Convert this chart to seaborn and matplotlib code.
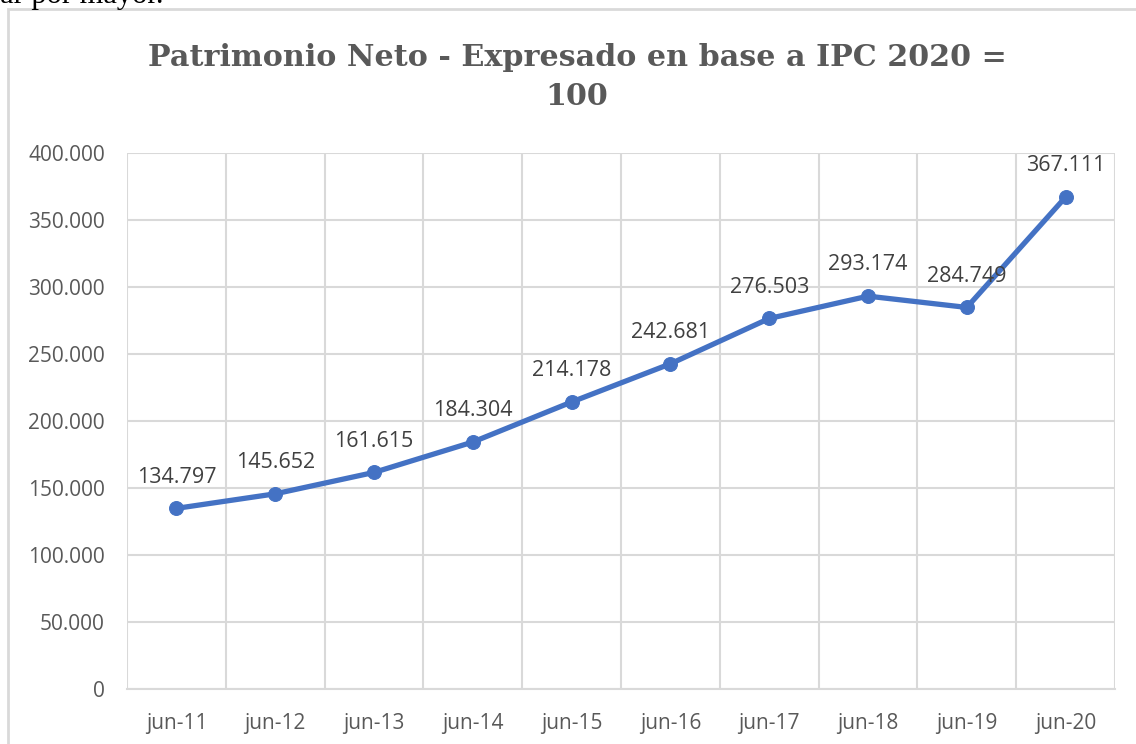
import matplotlib
matplotlib.use("Agg")
import matplotlib.pyplot as plt
import matplotlib.ticker as mticker
from matplotlib.patches import Rectangle
import seaborn as sns
import numpy as np

# datos del gráfico
periodos = ["jun-11", "jun-12", "jun-13", "jun-14", "jun-15",
            "jun-16", "jun-17", "jun-18", "jun-19", "jun-20"]
patrimonio = [134797, 145652, 161615, 184304, 214178,
              242681, 276503, 293174, 284749, 367111]
titulo = "Patrimonio Neto - Expresado en base a IPC 2020 =\n100"

GRIS_TXT = "#595959"
GRIS_GRID = "#d9d9d9"
AZUL = "#4472C4"


def miles(v, pos=None):
    return f"{int(round(v)):,}".replace(",", ".")


sns.set_style("white")
plt.rcParams["font.family"] = ["Open Sans", "DejaVu Sans"]

fig = plt.figure(figsize=(11.36, 7.44), dpi=100)
ax = fig.add_axes([127 / 1136, 1 - 689 / 744, (1115 - 127) / 1136, (689 - 153) / 744])

x = np.arange(len(periodos))
sns.lineplot(x=x, y=patrimonio, ax=ax, color=AZUL, linewidth=3.8,
             marker="o", markersize=10, markeredgecolor=AZUL, zorder=3)

# etiquetas de datos
for xi, v in zip(x, patrimonio):
    ax.annotate(miles(v), (xi, v), xytext=(0, 15), textcoords="offset points",
                ha="center", va="bottom", fontsize=15.5, color="#404040")

ax.set_xlim(-0.5, len(periodos) - 0.5)
ax.set_ylim(0, 400000)
ax.yaxis.set_major_locator(mticker.MultipleLocator(50000))
ax.yaxis.set_major_formatter(mticker.FuncFormatter(miles))
ax.set_xticks(x)
ax.set_xticklabels(periodos)
ax.set_xticks(np.arange(-0.5, len(periodos)), minor=True)

ax.grid(True, axis="y", color=GRIS_GRID, linewidth=1.5)
ax.grid(True, axis="x", which="minor", color=GRIS_GRID, linewidth=1.5)
ax.tick_params(axis="x", which="major", length=0, pad=17, labelsize=15, labelcolor=GRIS_TXT)
ax.tick_params(axis="x", which="minor", length=7, width=1.5, color=GRIS_GRID, direction="out")
ax.tick_params(axis="y", length=0, pad=16, labelsize=15, labelcolor=GRIS_TXT)
for s in ["top", "right", "left"]:
    ax.spines[s].set_visible(False)
ax.spines["bottom"].set_color(GRIS_GRID)
ax.spines["bottom"].set_linewidth(1.5)
ax.set_axisbelow(True)

# título
fig.text(577 / 1136, 1 - 77 / 744, titulo, ha="center", va="center",
         fontsize=21.7, fontweight="bold", color=GRIS_TXT,
         family=["DejaVu Serif"], linespacing=1.4)

# borde del área del gráfico
fig.patches.append(Rectangle((8 / 1136, -0.05), 1.1, 1 - 9 / 744 + 0.05,
                             transform=fig.transFigure, fill=False,
                             edgecolor="#d9d9d9", linewidth=2))

# texto cortado del documento (parte superior de la página)
fig.text(0, 1 - 3 / 744, "ar por mayor.", ha="left", va="baseline",
         fontsize=22, color="black", family=["Liberation Serif"])

fig.savefig("out.png", dpi=100)
